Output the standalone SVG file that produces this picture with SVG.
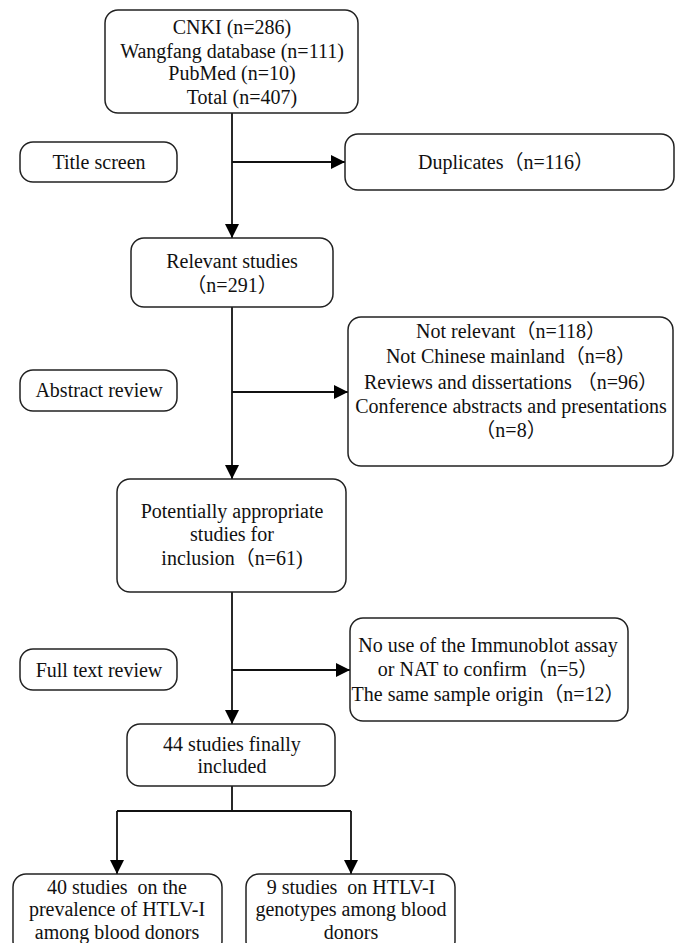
<svg xmlns="http://www.w3.org/2000/svg" width="679" height="943" viewBox="0 0 679 943">
<style>
.box{fill:#fff;stroke:#222;stroke-width:1.5}
.t{font-family:"Liberation Serif","Times New Roman","Noto Sans CJK SC",serif;font-size:20px;fill:#111;text-anchor:middle;dominant-baseline:central}
.ln{fill:none;stroke:#111;stroke-width:1.8}
</style>
<defs>
<marker id="ah" viewBox="0 0 14 14" refX="14" refY="7" markerWidth="14" markerHeight="14" markerUnits="userSpaceOnUse" orient="auto">
<path d="M0,0 L14,7 L0,14 Z" fill="#000"/>
</marker>
</defs>
<rect width="679" height="943" fill="#fff"/>
<g id="connectors">
<line class="ln" x1="232" y1="113" x2="232" y2="238" marker-end="url(#ah)"/>
<line class="ln" x1="232" y1="162" x2="345" y2="162" marker-end="url(#ah)"/>
<line class="ln" x1="232" y1="307" x2="232" y2="479" marker-end="url(#ah)"/>
<line class="ln" x1="232" y1="392" x2="348" y2="392" marker-end="url(#ah)"/>
<line class="ln" x1="232" y1="592" x2="232" y2="724" marker-end="url(#ah)"/>
<line class="ln" x1="232" y1="670" x2="350" y2="670" marker-end="url(#ah)"/>
<polyline class="ln" points="232,786 232,811"/>
<polyline class="ln" points="117,811 351,811"/>
<line class="ln" x1="117" y1="811" x2="117" y2="874" marker-end="url(#ah)"/>
<line class="ln" x1="351" y1="811" x2="351" y2="874" marker-end="url(#ah)"/>
</g>
<g id="sources">
<rect class="box" x="105" y="10" width="253" height="103" rx="13"/>
<text class="t" x="232" y="27">CNKI (n=286)</text>
<text class="t" x="232" y="51">Wangfang database (n=111)</text>
<text class="t" x="232" y="73">PubMed (n=10)</text>
<text class="t" x="242" y="97">Total (n=407)</text>
</g>
<g id="title-screen">
<rect class="box" x="20" y="142" width="157" height="40" rx="13"/>
<text class="t" x="99" y="162">Title screen</text>
</g>
<g id="duplicates">
<rect class="box" x="345" y="134" width="329" height="56" rx="13"/>
<text class="t" x="506" y="162">Duplicates（n=116）</text>
</g>
<g id="relevant">
<rect class="box" x="131" y="238" width="202" height="69" rx="13"/>
<text class="t" x="232" y="261">Relevant studies</text>
<text class="t" x="232" y="285">（n=291）</text>
</g>
<g id="abstract-review">
<rect class="box" x="20" y="370" width="157" height="41" rx="13"/>
<text class="t" x="99" y="390">Abstract review</text>
</g>
<g id="excluded-abstract">
<rect class="box" x="348" y="317" width="325" height="149" rx="13"/>
<text class="t" x="511" y="331">Not relevant（n=118）</text>
<text class="t" x="511" y="356">Not Chinese mainland（n=8）</text>
<text class="t" x="511" y="382">Reviews and dissertations （n=96）</text>
<text class="t" x="511" y="406">Conference abstracts and presentations</text>
<text class="t" x="511" y="430">（n=8）</text>
</g>
<g id="potential">
<rect class="box" x="117" y="479" width="229" height="113" rx="13"/>
<text class="t" x="232" y="511">Potentially appropriate</text>
<text class="t" x="232" y="534">studies for</text>
<text class="t" x="232" y="558">inclusion（n=61)</text>
</g>
<g id="full-text-review">
<rect class="box" x="20" y="649" width="157" height="41" rx="13"/>
<text class="t" x="99" y="670">Full text review</text>
</g>
<g id="excluded-full">
<rect class="box" x="350" y="618" width="278" height="103" rx="13"/>
<text class="t" x="488" y="645">No use of the Immunoblot assay</text>
<text class="t" x="488" y="669">or NAT to confirm（n=5）</text>
<text class="t" x="488" y="694">The same sample origin（n=12）</text>
</g>
<g id="included">
<rect class="box" x="127" y="724" width="208" height="62" rx="13"/>
<text class="t" x="232" y="744">44 studies finally</text>
<text class="t" x="232" y="766">included</text>
</g>
<g id="prevalence">
<rect class="box" x="13" y="874" width="209" height="80" rx="13"/>
<text class="t" x="117" y="887" xml:space="preserve">40 studies  on the</text>
<text class="t" x="117" y="909">prevalence of HTLV-I</text>
<text class="t" x="117" y="932">among blood donors</text>
</g>
<g id="genotypes">
<rect class="box" x="246" y="874" width="209" height="80" rx="13"/>
<text class="t" x="351" y="887" xml:space="preserve">9 studies  on HTLV-I</text>
<text class="t" x="351" y="909">genotypes among blood</text>
<text class="t" x="351" y="932">donors</text>
</g>
</svg>
